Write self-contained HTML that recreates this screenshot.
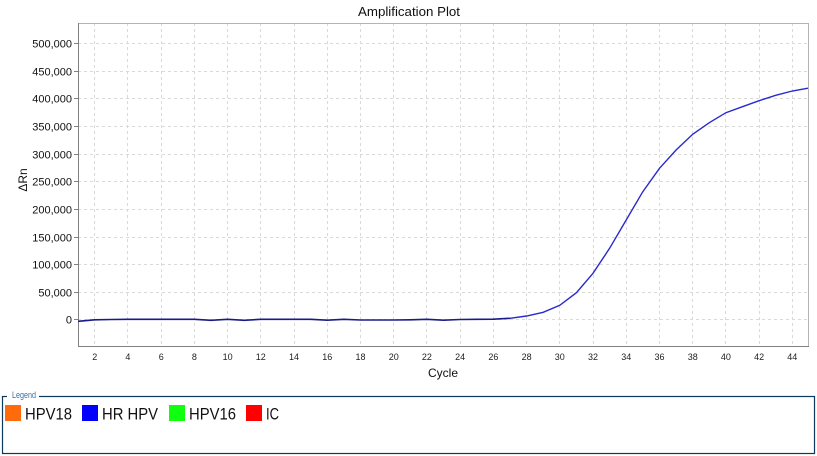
<!DOCTYPE html>
<html><head><meta charset="utf-8"><style>
html,body{margin:0;padding:0;background:#fff;}
svg{display:block;font-family:"Liberation Sans",sans-serif;}
</style></head><body>
<svg width="817" height="456" viewBox="0 0 817 456" xmlns="http://www.w3.org/2000/svg">
<rect width="817" height="456" fill="#fff"/>
<text x="409" y="16" font-size="13" text-anchor="middle" fill="#111" textLength="102" lengthAdjust="spacingAndGlyphs">Amplification Plot</text>
<g stroke="#d9d9d9" stroke-width="1" stroke-dasharray="3,3" fill="none">
<line x1="78" y1="43.5" x2="808" y2="43.5"/><line x1="78" y1="71.5" x2="808" y2="71.5"/><line x1="78" y1="98.5" x2="808" y2="98.5"/><line x1="78" y1="126.5" x2="808" y2="126.5"/><line x1="78" y1="154.5" x2="808" y2="154.5"/><line x1="78" y1="181.5" x2="808" y2="181.5"/><line x1="78" y1="209.5" x2="808" y2="209.5"/><line x1="78" y1="237.5" x2="808" y2="237.5"/><line x1="78" y1="264.5" x2="808" y2="264.5"/><line x1="78" y1="292.5" x2="808" y2="292.5"/><line x1="78" y1="319.5" x2="808" y2="319.5"/>
<line x1="94.5" y1="23" x2="94.5" y2="346"/><line x1="127.5" y1="23" x2="127.5" y2="346"/><line x1="161.5" y1="23" x2="161.5" y2="346"/><line x1="194.5" y1="23" x2="194.5" y2="346"/><line x1="227.5" y1="23" x2="227.5" y2="346"/><line x1="260.5" y1="23" x2="260.5" y2="346"/><line x1="294.5" y1="23" x2="294.5" y2="346"/><line x1="327.5" y1="23" x2="327.5" y2="346"/><line x1="360.5" y1="23" x2="360.5" y2="346"/><line x1="393.5" y1="23" x2="393.5" y2="346"/><line x1="426.5" y1="23" x2="426.5" y2="346"/><line x1="460.5" y1="23" x2="460.5" y2="346"/><line x1="493.5" y1="23" x2="493.5" y2="346"/><line x1="526.5" y1="23" x2="526.5" y2="346"/><line x1="559.5" y1="23" x2="559.5" y2="346"/><line x1="593.5" y1="23" x2="593.5" y2="346"/><line x1="626.5" y1="23" x2="626.5" y2="346"/><line x1="659.5" y1="23" x2="659.5" y2="346"/><line x1="692.5" y1="23" x2="692.5" y2="346"/><line x1="725.5" y1="23" x2="725.5" y2="346"/><line x1="759.5" y1="23" x2="759.5" y2="346"/><line x1="792.5" y1="23" x2="792.5" y2="346"/>
</g>
<line x1="78" y1="23.5" x2="808" y2="23.5" stroke="#b4b4b4"/>
<line x1="808.5" y1="23" x2="808.5" y2="346" stroke="#b4b4b4"/>
<line x1="78.5" y1="23" x2="78.5" y2="346.5" stroke="#808080"/>
<line x1="78" y1="346.5" x2="809" y2="346.5" stroke="#808080"/>
<g stroke="#808080">
<line x1="74" y1="43.5" x2="78" y2="43.5"/><line x1="74" y1="71.5" x2="78" y2="71.5"/><line x1="74" y1="98.5" x2="78" y2="98.5"/><line x1="74" y1="126.5" x2="78" y2="126.5"/><line x1="74" y1="154.5" x2="78" y2="154.5"/><line x1="74" y1="181.5" x2="78" y2="181.5"/><line x1="74" y1="209.5" x2="78" y2="209.5"/><line x1="74" y1="237.5" x2="78" y2="237.5"/><line x1="74" y1="264.5" x2="78" y2="264.5"/><line x1="74" y1="292.5" x2="78" y2="292.5"/><line x1="74" y1="319.5" x2="78" y2="319.5"/>
</g>
<g font-size="11" fill="#111" text-anchor="end">
<text x="72" y="47.5">500,000</text><text x="72" y="75.5">450,000</text><text x="72" y="102.5">400,000</text><text x="72" y="130.5">350,000</text><text x="72" y="158.5">300,000</text><text x="72" y="185.5">250,000</text><text x="72" y="213.5">200,000</text><text x="72" y="241.5">150,000</text><text x="72" y="268.5">100,000</text><text x="72" y="296.5">50,000</text><text x="72" y="323.5">0</text>
</g>
<g font-size="9" fill="#222" text-anchor="middle">
<text x="94.7" y="360">2</text><text x="127.9" y="360">4</text><text x="161.2" y="360">6</text><text x="194.4" y="360">8</text><text x="227.6" y="360">10</text><text x="260.8" y="360">12</text><text x="294" y="360">14</text><text x="327.3" y="360">16</text><text x="360.5" y="360">18</text><text x="393.7" y="360">20</text><text x="426.9" y="360">22</text><text x="460.1" y="360">24</text><text x="493.4" y="360">26</text><text x="526.6" y="360">28</text><text x="559.8" y="360">30</text><text x="593" y="360">32</text><text x="626.2" y="360">34</text><text x="659.5" y="360">36</text><text x="692.7" y="360">38</text><text x="725.9" y="360">40</text><text x="759.1" y="360">42</text><text x="792.3" y="360">44</text>
</g>
<text x="443" y="377" font-size="12" text-anchor="middle" fill="#111">Cycle</text>
<text transform="translate(27,180) rotate(-90)" font-size="12" text-anchor="middle" fill="#111">ΔRn</text>
<polyline fill="none" stroke="#1a1a8a" stroke-width="1.6" points="78.1,321.3 94.7,319.8 111.3,319.5 127.9,319.3 144.5,319.3 161.2,319.3 177.8,319.3 194.4,319.3 211,320.3 227.6,319.3 244.2,320.3 260.8,319.3 277.4,319.3 294,319.3 310.6,319.3 327.3,320.2 343.9,319.3 360.5,320 377.1,320 393.7,320 410.3,319.8 426.9,319.3 443.5,320.2 460.1,319.5 476.7,319.3 493.4,319.2 510,318.3"/>
<polyline fill="none" stroke="#2a2acc" stroke-width="1.4" points="510,318.3 526.6,316 543.2,312.3 559.8,305.3 576.4,292.7 593,273.3 609.6,248.3 626.2,220 642.8,191.7 659.5,168.3 676.1,150 692.7,134.3 709.3,122.7 725.9,112.7 742.5,106.7 759.1,100.7 775.7,95.3 792.3,91 808,88.2"/>
<rect x="2.5" y="396.5" width="812" height="57" fill="none" stroke="#0d3a5c" stroke-width="1.2"/>
<rect x="7" y="390" width="32" height="12" fill="#fff"/>
<text x="12" y="398" font-size="9" fill="#3a6ea5" textLength="24" lengthAdjust="spacingAndGlyphs">Legend</text>
<rect x="5" y="405" width="16" height="16" fill="#ff6a0a"/>
<text x="25" y="419.5" font-size="17" fill="#111" textLength="47" lengthAdjust="spacingAndGlyphs">HPV18</text>
<rect x="82" y="405" width="16" height="16" fill="#0000ff"/>
<text x="102" y="419.5" font-size="17" fill="#111" textLength="56" lengthAdjust="spacingAndGlyphs">HR HPV</text>
<rect x="169" y="405" width="16" height="16" fill="#10ff10"/>
<text x="189" y="419.5" font-size="17" fill="#111" textLength="47" lengthAdjust="spacingAndGlyphs">HPV16</text>
<rect x="246" y="405" width="16" height="16" fill="#ff0000"/>
<text x="266" y="419.5" font-size="17" fill="#111" textLength="13" lengthAdjust="spacingAndGlyphs">IC</text>
</svg>
</body></html>
